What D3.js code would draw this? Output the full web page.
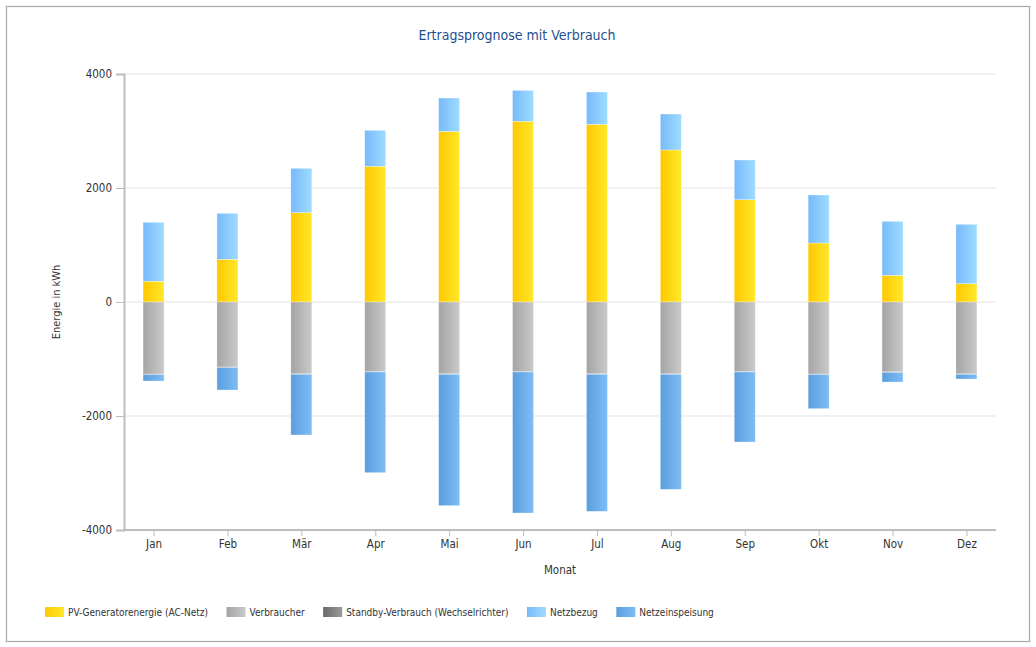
<!DOCTYPE html>
<html>
<head>
<meta charset="utf-8">
<script src="https://cdn.jsdelivr.net/npm/d3@7"></script>
<style>
  body { margin: 0; background: #fff; }
  svg text { font-family: "DejaVu Sans Condensed", "DejaVu Sans", sans-serif; }
</style>
</head>
<body>
<svg id="chart" width="1036" height="647"></svg>
<script>
// Monatswerte in kWh
var months = ["Jan", "Feb", "Mär", "Apr", "Mai", "Jun", "Jul", "Aug", "Sep", "Okt", "Nov", "Dez"];
var pvEnergie = [363, 749, 1567, 2380, 2994, 3170, 3117, 2667, 1795, 1035, 468, 322];
var netzbezug = [1035, 807, 778, 632, 585, 543, 567, 631, 696, 842, 947, 1041];
var verbraucher = [-1265, -1142, -1259, -1218, -1259, -1218, -1259, -1259, -1218, -1265, -1224, -1259];
var standby = [-10, -10, -10, -10, -10, -10, -10, -10, -10, -10, -10, -10];
var netzeinspeisung = [-111, -392, -1064, -1766, -2304, -2474, -2404, -2018, -1228, -596, -170, -82];
var yTicks = [-4000, -2000, 0, 2000, 4000];

var series = [
    { key: "pv", name: "PV-Generatorenergie (AC-Netz)", values: pvEnergie, c0: "#ffc800", c1: "#ffe82a" },
    { key: "verb", name: "Verbraucher", values: verbraucher, c0: "#a4a4a4", c1: "#cacaca" },
    { key: "standby", name: "Standby-Verbrauch (Wechselrichter)", values: standby, c0: "#6a6a6a", c1: "#9a9a9a" },
    { key: "bezug", name: "Netzbezug", values: netzbezug, c0: "#78b9fa", c1: "#9edcff" },
    { key: "einsp", name: "Netzeinspeisung", values: netzeinspeisung, c0: "#5b9dde", c1: "#7ebdf6" }
];

var svg = d3.select("#chart");
var margin = { left: 124, right: 996, top: 74, bottom: 530 };

// Rahmen
svg.append("rect")
    .attr("x", 6.5).attr("y", 6.5)
    .attr("width", 1023).attr("height", 635)
    .attr("fill", "#fff")
    .attr("stroke", "#a8a8a8").attr("stroke-width", 1.2);

var defs = svg.append("defs");
series.forEach(function (s) {
    var g = defs.append("linearGradient")
        .attr("id", "grad-" + s.key)
        .attr("x1", "0%").attr("x2", "100%").attr("y1", "0%").attr("y2", "0%");
    g.append("stop").attr("offset", "0%").attr("stop-color", s.c0);
    g.append("stop").attr("offset", "100%").attr("stop-color", s.c1);
});

var x = d3.scalePoint()
    .domain(months)
    .range([margin.left, margin.right])
    .padding(0.4);

var y = d3.scaleLinear()
    .domain([-4000, 4000])
    .range([margin.bottom, margin.top]);

// Gitternetz
svg.append("g")
    .selectAll("line")
    .data(yTicks.filter(function (t) { return t > -4000; }))
    .enter().append("line")
    .attr("x1", margin.left).attr("x2", margin.right)
    .attr("y1", function (d) { return y(d); })
    .attr("y2", function (d) { return y(d); })
    .attr("stroke", "#ececec").attr("stroke-width", 1.5);

// Daten stapeln
var table = months.map(function (m, i) {
    var row = { month: m };
    series.forEach(function (s) { row[s.key] = s.values[i]; });
    return row;
});

var stack = d3.stack()
    .keys(["pv", "bezug", "verb", "standby", "einsp"])
    .offset(d3.stackOffsetDiverging);

var stacked = stack(table);
var barW = 21;

svg.append("g")
    .selectAll("g")
    .data(stacked)
    .enter().append("g")
    .attr("fill", function (d) { return "url(#grad-" + d.key + ")"; })
    .selectAll("rect")
    .data(function (d) { return d; })
    .enter().append("rect")
    .attr("x", function (d) { return x(d.data.month) - barW / 2; })
    .attr("width", barW)
    .attr("y", function (d) { return y(Math.max(d[0], d[1])); })
    .attr("height", function (d) { return Math.abs(y(d[0]) - y(d[1])); })
    .attr("stroke", "rgba(255,255,255,0.5)")
    .attr("stroke-width", 0.6);

// Achsen
var yAxis = svg.append("g")
    .attr("transform", "translate(" + margin.left + ",0)")
    .call(d3.axisLeft(y).tickValues(yTicks).tickSize(8).tickPadding(4)
        .tickFormat(function (d) { return String(d); }));

var xAxis = svg.append("g")
    .attr("transform", "translate(0," + margin.bottom + ")")
    .call(d3.axisBottom(x).tickSize(6).tickPadding(4).tickSizeOuter(0));

[yAxis, xAxis].forEach(function (a) {
    a.select(".domain").attr("stroke", "#bdbdbd").attr("stroke-width", 2);
    a.selectAll(".tick line").attr("stroke", "#bdbdbd");
    a.selectAll(".tick text").attr("fill", "#333").style("font-size", "11.5px");
});
xAxis.select(".domain").attr("d", "M" + (margin.left - 1) + ",0H" + margin.right);

// Titel
svg.append("text")
    .attr("x", 517).attr("y", 40)
    .attr("text-anchor", "middle")
    .attr("fill", "#1f4f8f")
    .style("font-size", "14px")
    .text("Ertragsprognose mit Verbrauch");

svg.append("text")
    .attr("transform", "translate(60,302) rotate(-90)")
    .attr("text-anchor", "middle")
    .attr("fill", "#333")
    .style("font-size", "11px")
    .text("Energie in kWh");

svg.append("text")
    .attr("x", 560).attr("y", 574)
    .attr("text-anchor", "middle")
    .attr("fill", "#333")
    .style("font-size", "11.5px")
    .text("Monat");

// Legende
var legend = svg.append("g").attr("transform", "translate(45,607)");
var lx = 0;
series.forEach(function (s) {
    var item = legend.append("g").attr("transform", "translate(" + lx + ",0)");
    item.append("rect")
        .attr("width", 19).attr("height", 10)
        .attr("fill", "url(#grad-" + s.key + ")");
    var t = item.append("text")
        .attr("x", 23).attr("y", 8.5)
        .attr("fill", "#333")
        .style("font-size", "10px")
        .text(s.name);
    lx += 23 + t.node().getComputedTextLength() + 18.5;
});
</script>
</body>
</html>
